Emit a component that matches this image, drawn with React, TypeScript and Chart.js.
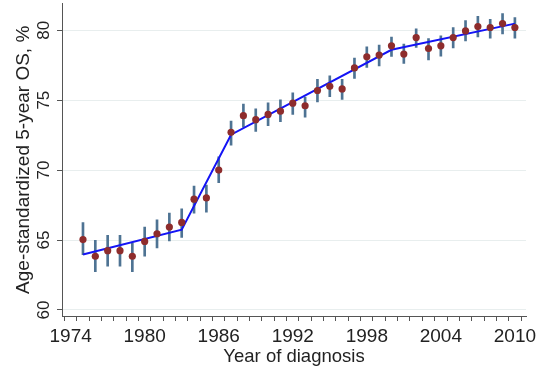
import React, { useEffect, useRef } from "react";
import { Chart, registerables } from "chart.js";

Chart.register(...registerables);

const years = [
  1975, 1976, 1977, 1978, 1979, 1980, 1981, 1982, 1983, 1984, 1985, 1986,
  1987, 1988, 1989, 1990, 1991, 1992, 1993, 1994, 1995, 1996, 1997, 1998,
  1999, 2000, 2001, 2002, 2003, 2004, 2005, 2006, 2007, 2008, 2009, 2010,
];
const osValues = [
  65.03, 63.84, 64.24, 64.24, 63.84, 64.9, 65.45, 65.93, 66.26, 67.92, 68.01, 70.0,
  72.7, 73.89, 73.6, 73.98, 74.21, 74.78, 74.6, 75.69, 75.99, 75.8, 77.3, 78.1,
  78.22, 78.88, 78.29, 79.47, 78.69, 78.88, 79.47, 79.95, 80.26, 80.19, 80.47, 80.19,
];
const ciLower = [
  63.96, 62.73, 63.13, 63.13, 62.73, 63.84, 64.44, 64.93, 65.19, 66.92, 66.99, 69.1,
  71.78, 73.06, 72.77, 73.18, 73.46, 73.98, 73.79, 74.88, 75.24, 75.05, 76.56, 77.34,
  77.44, 78.12, 77.63, 78.76, 77.87, 78.15, 78.74, 79.24, 79.52, 79.43, 79.74, 79.43,
];
const ciUpper = [
  66.25, 64.98, 65.33, 65.33, 64.79, 65.93, 66.45, 66.92, 67.23, 68.86, 68.93, 70.95,
  73.5, 74.71, 74.38, 74.81, 75.02, 75.52, 75.21, 76.49, 76.73, 76.49, 78.01, 78.81,
  78.93, 79.5, 79.0, 80.09, 79.4, 79.59, 80.18, 80.68, 80.99, 80.78, 81.18, 80.9,
];
const joinYears = [1975, 1983, 1987, 2000, 2010];
const joinValues = [63.96, 65.74, 72.53, 78.6, 80.47];

const xTicks = [
  1974, 1975, 1976, 1977, 1978, 1979, 1980, 1981, 1982, 1983, 1984, 1985, 1986,
  1987, 1988, 1989, 1990, 1991, 1992, 1993, 1994, 1995, 1996, 1997, 1998, 1999,
  2000, 2001, 2002, 2003, 2004, 2005, 2006, 2007, 2008, 2009, 2010,
];
const xLabels = [1974, 1980, 1986, 1992, 1998, 2004, 2010];
const yTicks = [60, 65, 70, 75, 80];

const FONT = "'Liberation Sans', Arial, Helvetica, sans-serif";
const TEXT = "#222";
const AXIS = "#555";

const yTickLabelPlugin = {
  id: "yTickLabels",
  afterDraw(chart: any) {
    const s = chart.scales.y;
    const ctx = chart.ctx;
    ctx.save();
    ctx.fillStyle = TEXT;
    ctx.font = `17px ${FONT}`;
    ctx.textAlign = "center";
    ctx.textBaseline = "middle";
    for (const v of yTicks) {
      const py = s.getPixelForValue(v);
      ctx.save();
      ctx.translate(44, py);
      ctx.rotate(-Math.PI / 2);
      ctx.fillText(String(v), 0, 0);
      ctx.restore();
    }
    ctx.restore();
  },
};

export default function App() {
  const ref = useRef<HTMLCanvasElement | null>(null);
  useEffect(() => {
    if (!ref.current) return;
    const chart = new Chart(ref.current, {
      type: "line",
      data: {
        datasets: [
          {
            type: "scatter",
            data: years.map((x, i) => ({ x, y: osValues[i] })),
            showLine: false,
            pointRadius: 3.6,
            pointHoverRadius: 3.6,
            pointBackgroundColor: "#8e2c2c",
            pointBorderWidth: 0,
            order: 1,
          } as any,
          {
            type: "line",
            data: joinYears.map((x, i) => ({ x, y: joinValues[i] })),
            borderColor: "#1414f5",
            borderWidth: 2,
            pointRadius: 0,
            tension: 0,
            order: 2,
          },
          {
            type: "bar",
            data: years.map((x, i) => ({ x, y: [ciLower[i], ciUpper[i]] })),
            backgroundColor: "#4e7393",
            barThickness: 2,
            grouped: false,
            order: 3,
          } as any,
        ],
      },
      options: {
        animation: false,
        responsive: false,
        maintainAspectRatio: false,
        layout: { padding: { top: 3, right: 17, left: 0, bottom: 0 } },
        plugins: { legend: { display: false }, tooltip: { enabled: false } },
        scales: {
          x: {
            type: "linear",
            min: 1973.3,
            max: 2010.9,
            offset: false,
            afterBuildTicks: (s: any) => {
              s.ticks = xTicks.map((v) => ({ value: v }));
            },
            afterFit: (s: any) => {
              s.height = 52;
            },
            ticks: {
              autoSkip: false,
              maxRotation: 0,
              minRotation: 0,
              padding: 4,
              color: TEXT,
              font: { family: FONT, size: 19 },
              callback: (v: any) => (xLabels.includes(Number(v)) ? String(v) : ""),
            },
            grid: {
              drawOnChartArea: false,
              drawTicks: true,
              tickLength: 5,
              tickColor: AXIS,
            },
            border: { display: true, color: AXIS, width: 1 },
            title: {
              display: true,
              text: "Year of diagnosis",
              color: TEXT,
              font: { family: FONT, size: 18.5, lineHeight: 1 },
              padding: { top: 0, bottom: 2 },
            },
          },
          y: {
            type: "linear",
            min: 59.57,
            max: 81.9,
            afterBuildTicks: (s: any) => {
              s.ticks = yTicks.map((v) => ({ value: v }));
            },
            afterFit: (s: any) => {
              s.width = 62;
            },
            ticks: {
              display: false,
            },
            grid: {
              color: "#e8eeee",
              lineWidth: 1,
              drawTicks: true,
              tickLength: 5,
              tickColor: AXIS,
            },
            border: { display: true, color: AXIS, width: 1 },
            title: {
              display: true,
              text: "Age-standardized 5-year OS, %",
              color: TEXT,
              font: { family: FONT, size: 19, lineHeight: 1 },
              padding: { top: 14, bottom: 0 },
            },
          },
        },
      },
      plugins: [yTickLabelPlugin],
    });
    return () => chart.destroy();
  }, []);
  return (
    <div style={{ position: "absolute", left: 0, top: 0, width: 543, height: 368 }}>
      <canvas ref={ref} width={543} height={368} />
    </div>
  );
}
